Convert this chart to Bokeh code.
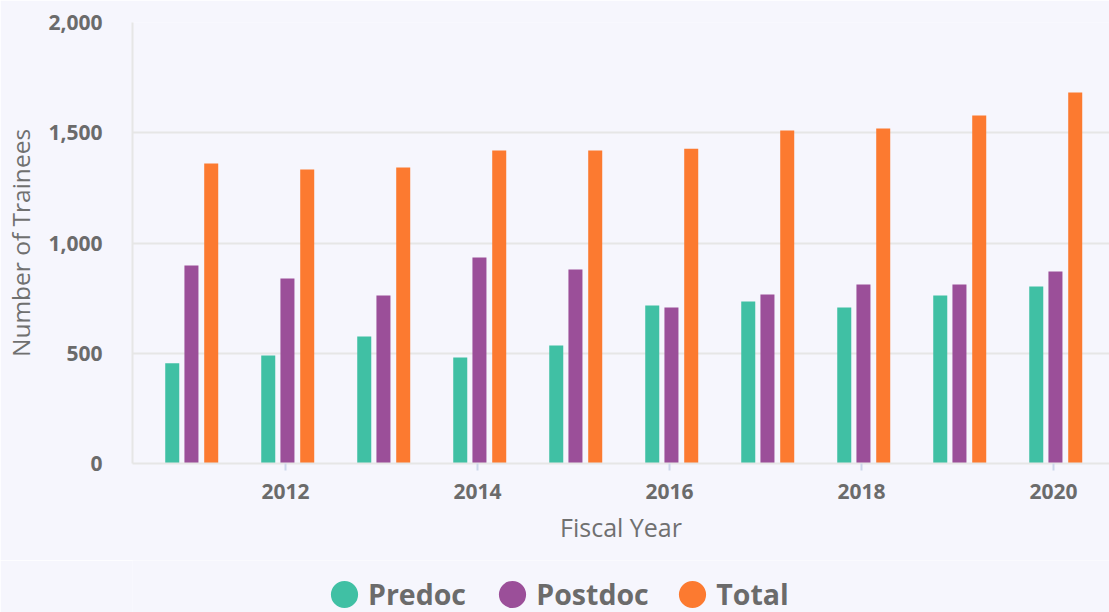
from bokeh.plotting import figure
from bokeh.layouts import column
from bokeh.models import (ColumnDataSource, Range1d, FixedTicker, NumeralTickFormatter,
                          BasicTickFormatter, Legend, LegendItem)
from bokeh.transform import dodge
from bokeh.embed import file_html
from bokeh.resources import INLINE

# ---- data ----
years = [2011, 2012, 2013, 2014, 2015, 2016, 2017, 2018, 2019, 2020]
predoc = [455, 490, 576, 481, 535, 716, 735, 707, 762, 803]
postdoc = [898, 839, 762, 934, 880, 707, 766, 812, 812, 871]
total = [1360, 1333, 1342, 1419, 1419, 1428, 1510, 1519, 1578, 1682]
series_names = ["Predoc", "Postdoc", "Total"]
x_ticks = [2012, 2014, 2016, 2018, 2020]
y_ticks = [0, 500, 1000, 1500, 2000]

colors = ["#40c0a4", "#9b4f99", "#fc7a30"]
offsets = [-0.18, 0.02, 0.226]
legend_x = [195.0, 363.3, 543.3]   # legend item placement (screen px from frame left)
BAR_W = 0.146
TXT = "#6b6b6b"
BG = "#f6f6fd"

source = ColumnDataSource(dict(year=years, Predoc=predoc, Postdoc=postdoc, Total=total))

p = figure(width=1109, height=560, output_backend="svg", toolbar_location=None,
           x_range=Range1d(2010.406, 2020.583), y_range=Range1d(0, 2000),
           min_border_left=132, min_border_right=0, min_border_top=22,
           min_border_bottom=97)
p.border_fill_color = BG
p.background_fill_color = BG
p.outline_line_color = None

for name, c, off in zip(series_names, colors, offsets):
    p.vbar(x=dodge("year", off, range=p.x_range), top=name, width=BAR_W,
           source=source, fill_color=c, line_color=None)

# x axis
xa = p.xaxis[0]
xa.ticker = FixedTicker(ticks=x_ticks)
xa.formatter = BasicTickFormatter(use_scientific=False)
xa.axis_line_color = "#e6e6e6"
xa.axis_line_width = 2
xa.major_tick_line_color = "#ccd6eb"
xa.major_tick_line_width = 2
xa.major_tick_in = 0
xa.major_tick_out = 7
xa.minor_tick_line_color = None
xa.major_label_standoff = 13
xa.major_label_text_font = "Open Sans"
xa.major_label_text_font_style = "bold"
xa.major_label_text_font_size = "21px"
xa.major_label_text_color = TXT
xa.axis_label = "Fiscal Year"
xa.axis_label_standoff = 8
xa.axis_label_text_font = "Open Sans"
xa.axis_label_text_font_style = "normal"
xa.axis_label_text_font_size = "25px"
xa.axis_label_text_color = "#707070"

# y axis
ya = p.yaxis[0]
ya.ticker = FixedTicker(ticks=y_ticks)
ya.formatter = NumeralTickFormatter(format="0,0")
ya.axis_line_color = "#e6e6e6"
ya.axis_line_width = 2
ya.major_tick_line_color = None
ya.minor_tick_line_color = None
ya.major_label_standoff = 24
ya.major_label_text_font = "Open Sans"
ya.major_label_text_font_style = "bold"
ya.major_label_text_font_size = "21px"
ya.major_label_text_color = TXT
ya.axis_label = "Number of Trainees"
ya.axis_label_standoff = 8
ya.axis_label_text_font = "Open Sans"
ya.axis_label_text_font_style = "normal"
ya.axis_label_text_font_size = "24.5px"
ya.axis_label_text_color = "#707070"

p.xgrid.visible = False
p.ygrid.ticker = FixedTicker(ticks=y_ticks)
p.ygrid.grid_line_color = "#e6e6e6"
p.ygrid.grid_line_width = 2

# ---- legend strip below the chart ----
lg = figure(width=1109, height=52, output_backend="svg", toolbar_location=None,
            x_range=Range1d(0, 1), y_range=Range1d(0, 1),
            x_axis_location=None, y_axis_location=None,
            min_border_left=0, min_border_right=0, min_border_top=0, min_border_bottom=0)
lg.border_fill_color = BG
lg.background_fill_color = BG
lg.outline_line_color = None
lg.grid.visible = False

for name, c, lx in zip(series_names, colors, legend_x):
    # off-range proxy glyph: only its legend swatch (a circle) is visible
    r = lg.ellipse(x="year", y=name, width=12, height=12, width_units="screen",
                   height_units="screen", source=source, fill_color=c, line_color=None)
    leg = Legend(items=[LegendItem(label=name, renderers=[r])], location=(lx, -2),
                 glyph_width=34, glyph_height=40, label_standoff=7,
                 padding=0, margin=0, border_line_color=None, background_fill_alpha=0,
                 label_text_font="Open Sans", label_text_font_style="bold",
                 label_text_font_size="28.5px", label_text_color=TXT)
    lg.add_layout(leg, "center")

layout = column(p, lg, spacing=0)
open("out.html", "w").write(file_html(layout, INLINE))
